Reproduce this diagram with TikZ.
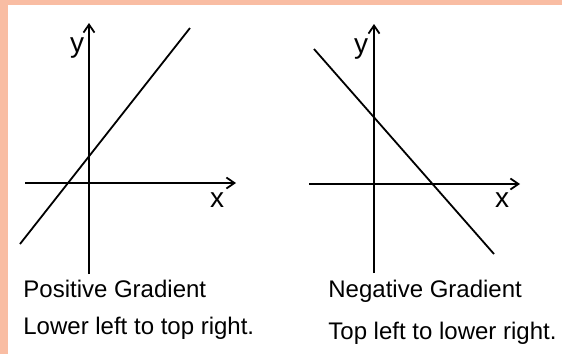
\documentclass[tikz,border=0pt]{standalone}
\usepackage{fontspec}
\setmainfont{Liberation Sans}
\usetikzlibrary{arrows.meta, positioning}
\definecolor{framepeach}{RGB}{249,189,163}

\begin{document}
\begin{tikzpicture}[
      x=0.5pt, y=-0.5pt,
      axis/.style={line width=0.9pt, -{Straight Barb[length=4pt, width=5.5pt]}},
      graph/.style={line width=0.9pt},
      axlabel/.style={font=\fontsize{14}{16}\selectfont, inner sep=0pt, anchor=base},
      caption/.style={font=\fontsize{12}{14}\selectfont, inner sep=0pt, anchor=base west}
    ]
    \useasboundingbox (0,0) rectangle (562,354);
    \fill[framepeach] (0,0) rectangle (562,354);
    \fill[white] (8,5) rectangle (562,354);

    % positive gradient
    \coordinate (px0) at (25,183);  \coordinate (px1) at (236,183);
    \coordinate (py0) at (89,274);  \coordinate (py1) at (89,23);
    \coordinate (pl0) at (20,244);  \coordinate (pl1) at (190,28);
    \draw[axis] (px0) -- (px1);
    \draw[axis] (py0) -- (py1);
    \draw[graph] (pl0) -- (pl1);
    \node[axlabel] (pylab) at (77,52) {y};
    \node[axlabel] (pxlab) at (217,207) {x};
    \node[caption] (postitle) at (23,297) {Positive Gradient};
    \node[caption] (posnote) at (23,334) {Lower left to top right.};

    % negative gradient
    \coordinate (nx0) at (309,184); \coordinate (nx1) at (520,184);
    \coordinate (ny0) at (374,273); \coordinate (ny1) at (374,24);
    \coordinate (nl0) at (314,49);  \coordinate (nl1) at (494,254);
    \draw[axis] (nx0) -- (nx1);
    \draw[axis] (ny0) -- (ny1);
    \draw[graph] (nl0) -- (nl1);
    \node[axlabel] (nylab) at (361,53) {y};
    \node[axlabel] (nxlab) at (502,207) {x};
    \node[caption] (negtitle) at (328,297) {Negative Gradient};
    \node[caption] (negnote) at (328,339) {Top left to lower right.};
  \end{tikzpicture}
\end{document}
